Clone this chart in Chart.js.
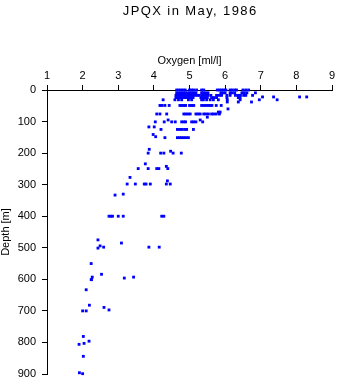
<!DOCTYPE html>
<html lang="en">
<head>
    <meta charset="utf-8" />
    <title>JPQX in May, 1986</title>
    <script src="https://cdn.jsdelivr.net/npm/chart.js@4.4.0/dist/chart.umd.min.js"></script>
    <style>
        html, body { margin: 0; padding: 0; background: #fff; }
        #wrap { width: 338px; height: 384px; }
    </style>
</head>
<body>
    <div id="wrap"><canvas id="chart" width="338" height="384"></canvas></div>
    <script>
        // Depth of each sample level [m]
        const depthLevels = [
            0, 9, 17, 22, 24, 31, 38, 49, 60, 70, 76, 86, 95, 101, 117, 125, 141, 148, 151,
            188, 194, 200, 234, 242, 249, 277, 288, 298, 330, 333, 400,
            475, 485, 494, 498, 501, 550, 584, 593, 596, 601, 633, 682, 689, 697, 700,
            781, 796, 803, 806, 844, 896, 899
        ];

        // Oxygen readings at each level [ml/l]
        const oxygenByLevel = [
            [4.64, 4.70, 4.76, 4.82, 4.88, 5.00, 5.06, 5.12, 5.20, 5.34, 5.40, 5.78, 5.84, 5.90, 5.96, 6.02, 6.14, 6.20, 6.27, 6.32, 6.50, 6.58, 6.66],
            [4.64, 4.70, 4.76, 4.82, 4.88, 4.94, 5.00, 5.06, 5.12, 5.18, 5.34, 5.40, 5.46, 5.52, 5.88, 5.94, 6.00, 6.14, 6.20, 6.27, 6.47, 6.54, 6.61, 6.85],
            [4.62, 4.68, 4.74, 4.80, 4.86, 4.92, 4.98, 5.04, 5.10, 5.16, 5.22, 5.27, 5.34, 5.40, 5.46, 5.52, 5.60, 5.76, 5.84, 5.90, 6.05, 6.14, 6.29, 6.36, 6.43, 6.52, 6.58, 6.77],
            [7.05, 7.36, 8.09, 8.29],
            [4.62, 4.68, 4.74, 4.80, 4.86, 4.92, 4.98, 5.04, 5.10, 5.32, 5.38, 5.44, 5.50, 5.62, 5.69, 5.76, 6.05, 6.37, 6.42],
            [4.26, 4.59, 4.69, 4.78, 4.97, 5.06, 5.34, 5.39, 5.48, 5.58, 5.67, 5.81, 6.06, 6.42, 6.96, 7.46],
            [6.06, 6.37, 6.74],
            [4.17, 4.23, 4.31, 4.43, 4.73, 4.79, 4.85, 4.89, 5.00, 5.06, 5.12, 5.34, 5.40, 5.46, 5.52, 5.58, 5.63, 5.75, 5.89],
            [6.08],
            [5.81, 5.86],
            [4.08, 4.17, 4.36, 4.84, 4.90, 4.96, 5.02, 5.18, 5.24, 5.30, 5.40, 5.46, 5.53, 5.62, 5.68, 5.75, 5.84],
            [5.50],
            [4.40, 5.30],
            [4.04, 4.29, 4.50, 4.60, 4.78, 4.84, 4.89, 5.06, 5.12, 5.18, 5.37],
            [3.86, 4.01],
            [4.20, 4.66, 4.72, 4.78, 4.86, 4.92, 5.11],
            [3.98],
            [4.05],
            [4.31, 4.66, 4.72, 4.78, 4.84, 4.90, 4.97],
            [3.87],
            [4.47],
            [3.84, 4.19, 4.28, 4.54, 4.77],
            [3.76],
            [4.35],
            [3.56, 3.84, 4.08, 4.14, 4.39],
            [3.33],
            [4.38],
            [3.25, 3.48, 3.73, 3.78, 3.90, 4.35, 4.46],
            [3.14],
            [2.91],
            [2.74, 2.79, 2.84, 3.00, 3.14, 4.22, 4.28],
            [2.43],
            [3.09],
            [2.49],
            [2.59, 3.86, 4.15],
            [2.43],
            [2.24],
            [2.53],
            [2.27, 3.43],
            [3.17],
            [2.24, 2.25],
            [2.10],
            [2.19],
            [2.60],
            [2.74],
            [2.00, 2.10],
            [2.02],
            [2.18],
            [2.04],
            [1.90],
            [2.02],
            [1.91],
            [2.00]
        ];

        const oxygenTicks = [1, 2, 3, 4, 5, 6, 7, 8, 9];
        const depthTicks = [0, 100, 200, 300, 400, 500, 600, 700, 800, 900];
        const chartTitle = 'JPQX in May, 1986';

        const points = [];
        depthLevels.forEach((d, i) => {
            oxygenByLevel[i].forEach(o => points.push({ x: o, y: d }));
        });

        const family = "'Liberation Sans', Arial, sans-serif";
        const font = { family: family, size: 11 };

        // title drawn by hand so the letters can be spaced out like the original
        const spacedTitle = {
            id: 'spacedTitle',
            afterDraw(chart) {
                const ctx = chart.ctx;
                const area = chart.chartArea;
                ctx.save();
                ctx.font = '13px ' + family;
                ctx.fillStyle = '#000';
                ctx.textAlign = 'center';
                ctx.textBaseline = 'middle';
                if ('letterSpacing' in ctx) ctx.letterSpacing = '1.4px';
                ctx.fillText(chartTitle, (area.left + area.right) / 2 + 0.7, 11);
                ctx.restore();
            }
        };

        new Chart(document.getElementById('chart'), {
            type: 'scatter',
            data: {
                datasets: [{
                    data: points,
                    pointStyle: 'rect',
                    pointRadius: 2,
                    pointHoverRadius: 2,
                    pointBorderWidth: 0,
                    backgroundColor: '#0000ff',
                    borderColor: '#0000ff',
                    clip: false
                }]
            },
            options: {
                responsive: false,
                animation: false,
                events: [],
                layout: { padding: { left: 0, top: 50, right: 6, bottom: 10 } },
                plugins: {
                    legend: { display: false },
                    tooltip: { enabled: false },
                    title: { display: false }
                },
                scales: {
                    x: {
                        type: 'linear',
                        position: 'top',
                        min: oxygenTicks[0],
                        max: oxygenTicks[oxygenTicks.length - 1],
                        afterBuildTicks: s => { s.ticks = oxygenTicks.map(v => ({ value: v })); },
                        afterFit: s => { s.height = 40; s.paddingLeft = 0; s.paddingRight = 0; },
                        ticks: { color: '#000', font: font, padding: 2, maxRotation: 0 },
                        grid: { drawOnChartArea: false, tickLength: 5, tickColor: '#000', tickWidth: 1 },
                        border: { display: true, color: '#000', width: 1 },
                        title: { display: true, text: 'Oxygen [ml/l]', color: '#000', font: font, padding: { top: 4, bottom: 0 } }
                    },
                    y: {
                        type: 'linear',
                        reverse: true,
                        min: depthTicks[0],
                        max: depthTicks[depthTicks.length - 1],
                        afterBuildTicks: s => { s.ticks = depthTicks.map(v => ({ value: v })); },
                        afterFit: s => { s.width = 47; s.paddingTop = 0; s.paddingBottom = 0; },
                        ticks: { color: '#000', font: font, padding: 6 },
                        grid: { drawOnChartArea: false, tickLength: 5, tickColor: '#000', tickWidth: 1 },
                        border: { display: true, color: '#000', width: 1 },
                        title: { display: true, text: 'Depth [m]', color: '#000', font: { family: family, size: 11, lineHeight: 1 }, padding: 0 }
                    }
                }
            },
            plugins: [spacedTitle]
        });
    </script>
</body>
</html>
